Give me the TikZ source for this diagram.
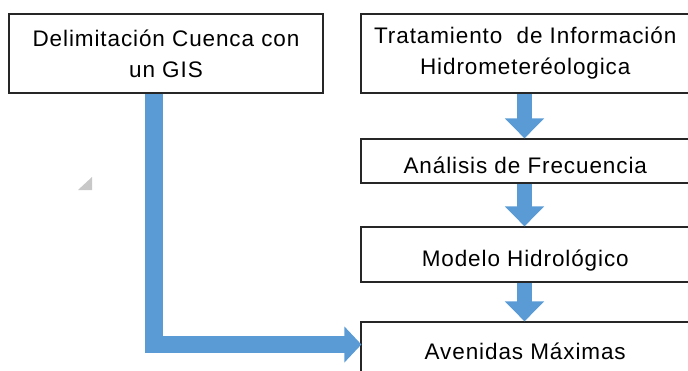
\documentclass[tikz,border=0pt]{standalone}
\usepackage{fontspec}
\setmainfont{Liberation Sans}[LetterSpace=4.0]
\usetikzlibrary{arrows.meta}

\definecolor{azul}{HTML}{5B9BD5}
\definecolor{marca}{HTML}{C8C8C8}

\begin{document}
\begin{tikzpicture}[x=1pt,y=-1pt,
    caja/.style={draw=black!85,line width=1.2pt,fill=white,inner sep=0pt,font=\fontsize{22.5}{31}\selectfont},
    linea/.style={caja,text height=24pt,text depth=0pt},
    flecha/.style={draw=azul,line width=15pt,-{Triangle[width=38pt,length=20pt]}},
    flechal/.style={draw=azul,line width=17.5pt,line join=miter,-{Triangle[width=35pt,length=17pt]}}]
    \useasboundingbox (0,0) rectangle (688,370);

    % cajas
    \node[caja,align=center,minimum width=314pt,minimum height=79pt] (gis) at (166,53.5) {Delimitación Cuenca con\\un GIS};
    \node[caja,align=center,minimum width=328.5pt,minimum height=79pt] (trat) at (525.25,53.5) {Tratamiento\ \ de Información\\Hidrometeréologica};
    \node[linea,minimum width=328.5pt,minimum height=44pt] (anal) at (525.25,161) {Análisis de Frecuencia};
    \node[linea,minimum width=328.5pt,minimum height=55pt] (mod) at (525.25,254.5) {Modelo Hidrológico};
    \node[linea,text height=18pt,minimum width=328.5pt,minimum height=56pt] (aven) at (525.25,350) {Avenidas Máximas};

    % flechas
    \draw[flecha] ([xshift=-0.75pt]trat.south) -- ([xshift=-0.75pt]anal.north);
    \draw[flecha] ([xshift=-0.75pt]anal.south) -- ([xshift=-0.75pt]mod.north);
    \draw[flecha] ([xshift=-0.75pt]mod.south) -- ([xshift=-0.75pt]aven.north);
    \coordinate (fin) at ([yshift=5.5pt,xshift=1pt]aven.west);
    \draw[flechal] ([xshift=-12pt]gis.south) |- (fin);

    % marca gris
    \fill[marca] (92,177) -- (92,190) -- (78,190) -- cycle;
\end{tikzpicture}
\end{document}
